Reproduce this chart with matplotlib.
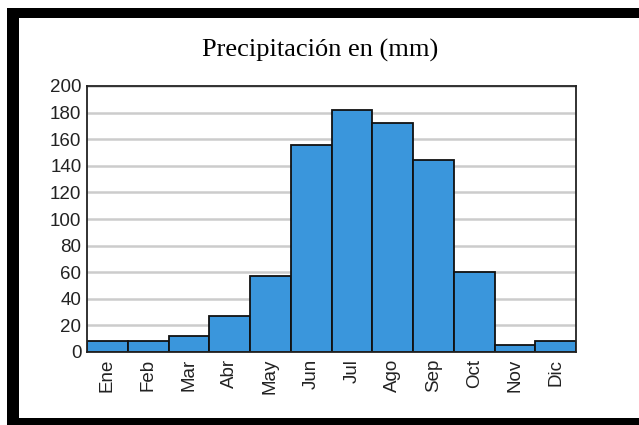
import matplotlib.pyplot as plt
from matplotlib.patches import Rectangle
import numpy as np

months = ["Ene", "Feb", "Mar", "Abr", "May", "Jun",
          "Jul", "Ago", "Sep", "Oct", "Nov", "Dic"]
precip = [8, 8, 12, 27, 57, 156, 182, 172, 144, 60, 5, 8]
yticks = [0, 20, 40, 60, 80, 100, 120, 140, 160, 180, 200]

W, H = 639, 425
fig = plt.figure(figsize=(W / 100, H / 100), dpi=100)

# black frame (cropped on the right)
for x0, y0, x1, y1 in [(7, 8, 19, 425), (7, 8, 639, 18), (7, 418, 639, 425)]:
    fig.add_artist(Rectangle((x0 / W, 1 - y1 / H), (x1 - x0) / W, (y1 - y0) / H,
                             transform=fig.transFigure, color="black", lw=0))

ax = fig.add_axes([87 / W, 1 - 352 / H, (576 - 87) / W, (352 - 86) / H])

x = np.arange(len(months))
ax.bar(x, precip, width=1.0, color="#3a96dc", edgecolor="#111111",
       linewidth=1.3, zorder=3)

ax.set_xlim(-0.5, len(months) - 0.5)
ax.set_ylim(0, 200)
ax.set_yticks(yticks)
ax.set_xticks(x)
ax.set_xticklabels(months, rotation=90)
ax.yaxis.grid(True, color="#cccccc", linewidth=1.8, zorder=0)
ax.set_axisbelow(True)

ax.tick_params(length=0, labelsize=13.5, labelcolor="#222222",
               labelfontfamily="Liberation Sans")
ax.tick_params(axis="y", pad=4)
ax.tick_params(axis="x", pad=5)
for s in ax.spines.values():
    s.set_color("#222222")
    s.set_linewidth(1.3)
    s.set_zorder(4)

fig.text(320 / W, 1 - 50 / H, "Precipitación en (mm)", ha="center",
         va="center", fontsize=19, family="Liberation Serif")

fig.savefig("out.png", dpi=100)
